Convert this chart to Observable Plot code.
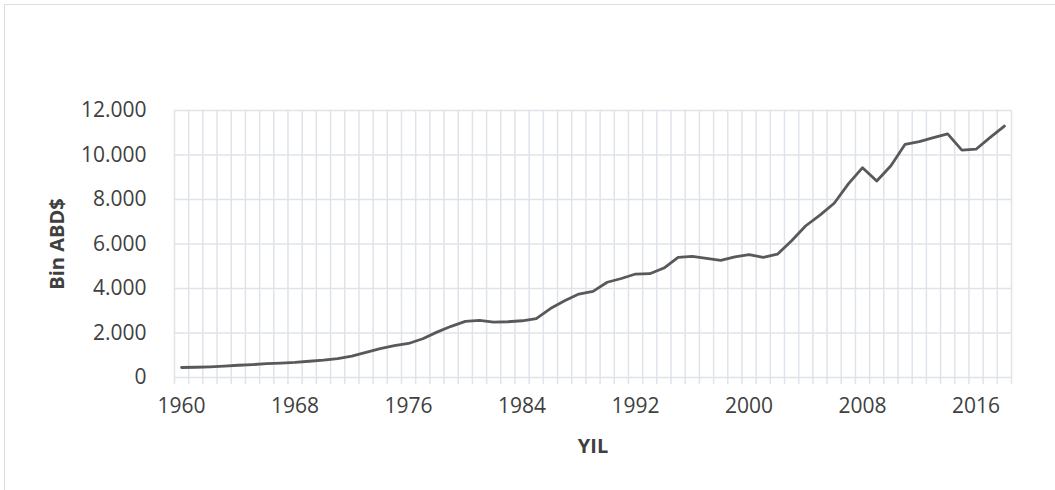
<!DOCTYPE html>
<html>
<head>
<meta charset="utf-8">
<script src="https://cdn.jsdelivr.net/npm/d3@7"></script>
<script src="https://cdn.jsdelivr.net/npm/@observablehq/plot@0.6"></script>
<style>
  html, body { margin: 0; padding: 0; background: #fff; }
  #wrap { position: relative; width: 1055px; height: 490px; overflow: hidden; }
  #frame { position: absolute; left: 4px; top: 4px; width: 1200px; height: 600px;
           border-left: 1.5px solid #d9dde6; border-top: 1.5px solid #d9dde6; }
  #chart { position: absolute; left: 0; top: 0; }
</style>
</head>
<body>
<div id="wrap"><div id="frame"></div><div id="chart"></div></div>
<script>
const years = d3.range(1960, 2019);
const values = [
  450, 460, 480, 510, 550, 580, 620, 650, 680, 730,
  780, 850, 960, 1130, 1300, 1430, 1530, 1740, 2040, 2300,
  2520, 2570, 2490, 2505, 2550, 2650, 3100, 3450, 3750, 3870,
  4280, 4450, 4650, 4665, 4920, 5400, 5445, 5350, 5260, 5420,
  5520, 5400, 5540, 6150, 6820, 7300, 7830, 8700, 9430, 8830,
  9520, 10480, 10600, 10780, 10950, 10220, 10260, 10790, 11300
];
const xTickLabels = [1960, 1968, 1976, 1984, 1992, 2000, 2008, 2016];
const yTicks = [0, 2000, 4000, 6000, 8000, 10000, 12000];
const yTitle = "Bin ABD$";
const xTitle = "YIL";

const data = years.map((y, i) => ({year: y, value: values[i]}));
const boundaries = d3.range(years.length + 1).map(i => years[0] - 0.5 + i);

const gridColor = "#dfe3ea";
const textColor = "#404040";

const chart = Plot.plot({
  width: 1055,
  height: 490,
  marginLeft: 174,
  marginRight: 44,
  marginTop: 110,
  marginBottom: 113,
  style: {fontFamily: "'Open Sans', sans-serif", background: "transparent", color: textColor},
  x: {domain: [years[0] - 0.5, years[years.length - 1] + 0.5]},
  y: {domain: [0, 12000]},
  marks: [
    Plot.gridX(boundaries, {stroke: gridColor, strokeOpacity: 1, strokeWidth: 1.5}),
    Plot.gridY(yTicks, {stroke: gridColor, strokeOpacity: 1, strokeWidth: 1.5}),
    Plot.axisX(boundaries, {tickSize: 7, stroke: gridColor, strokeWidth: 1.5, tickFormat: null, label: null, text: null}),
    Plot.axisX(xTickLabels, {tickSize: 0, tickPadding: 21, fontSize: 21, fill: textColor, tickFormat: d => String(d), label: null}),
    Plot.axisY(yTicks, {tickSize: 0, tickPadding: 28, fontSize: 21, fill: textColor,
      tickFormat: d => d3.format(",")(d).replace(/,/g, "."), label: null}),
    Plot.line(data, {x: "year", y: "value", stroke: "#595959", strokeWidth: 2.8, strokeLinejoin: "round"}),
    Plot.text([xTitle], {frameAnchor: "bottom", dy: 69, text: d => d, fontSize: 20, fontWeight: "bold", fill: textColor, textAnchor: "middle", lineAnchor: "middle"}),
    Plot.text([yTitle], {frameAnchor: "left", dx: -117, rotate: -90, text: d => d, fontSize: 20, fontWeight: "bold", fill: textColor, textAnchor: "middle", lineAnchor: "middle"})
  ]
});
document.getElementById("chart").appendChild(chart);
</script>
</body>
</html>
